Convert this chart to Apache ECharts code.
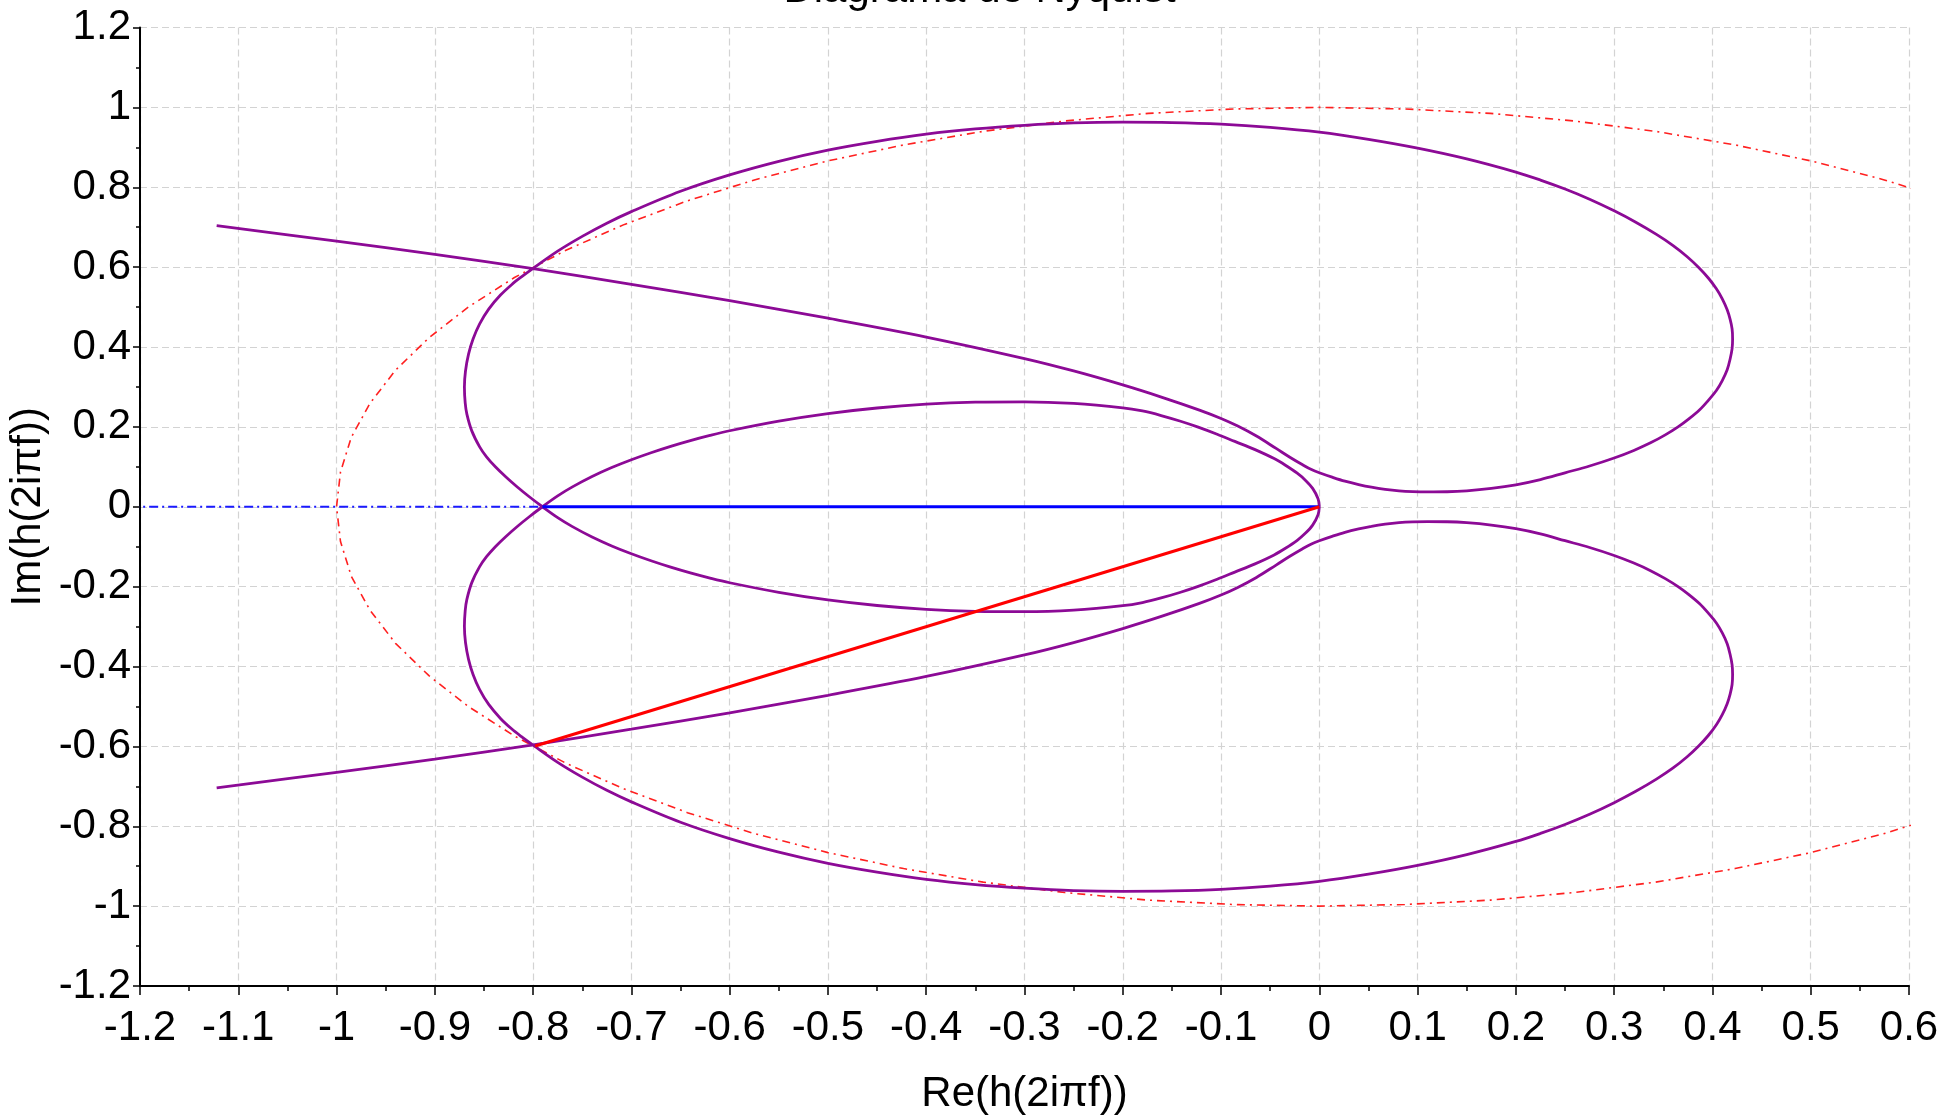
<!DOCTYPE html>
<html><head><meta charset="utf-8">
<script src="https://cdn.jsdelivr.net/npm/echarts@6/dist/echarts.min.js"></script>
<style>html,body{margin:0;padding:0;background:#fff}#c{width:1959px;height:1119px}</style>
</head><body><div id="c"></div>
<script>
// ---- texts ----
const titleText = 'Diagrama de Nyquist';
const xAxisName = 'Re(h(2iπf))';
const yAxisName = 'Im(h(2iπf))';

// ---- axis ranges (tick labels come from these) ----
const xRange = [-1.2, 0.6], xStep = 0.1;
const yRange = [-1.2, 1.2], yStep = 0.2;

// ---- Nyquist curve, branch starting top-left ----
const branchUpperStart = [
  [-1.122,0.704],[-1.0,0.665],[-0.9,0.632],[-0.8,0.596],[-0.7,0.557],[-0.6,0.516],[-0.5,0.472],
  [-0.4,0.425],[-0.3,0.371],[-0.25,0.340],[-0.2,0.305],[-0.16,0.274],[-0.122,0.242],[-0.1,0.221],
  [-0.083,0.202],[-0.064,0.177],[-0.044,0.146],[-0.03,0.124],[-0.017,0.105],[-0.008,0.093],
  [0,0.085],[0.013,0.074],[0.026,0.064],[0.04,0.0555],[0.053,0.049],[0.067,0.0437],[0.081,0.040],
  [0.095,0.038],[0.11,0.0372],[0.13,0.0376],[0.15,0.040],[0.175,0.046],[0.2,0.055],[0.225,0.068],
  [0.25,0.085],[0.275,0.102],[0.3,0.122],[0.32,0.141],[0.337,0.160],[0.352,0.180],[0.365,0.200],
  [0.376,0.220],[0.387,0.243],[0.396,0.267],[0.404,0.291],[0.410,0.316],[0.415,0.343],[0.418,0.370],
  [0.420,0.396],[0.4205,0.42],[0.420,0.445],[0.418,0.469],[0.415,0.493],[0.410,0.5205],[0.404,0.5457],
  [0.396,0.5721],[0.386,0.5991],[0.374,0.6267],[0.36,0.654],[0.343,0.682],[0.322,0.7125],[0.3,0.741],
  [0.275,0.770],[0.25,0.7955],[0.225,0.818],[0.2,0.838],[0.15,0.871],[0.1,0.898],[0.05,0.920],
  [0,0.938],[-0.05,0.950],[-0.1,0.958],[-0.15,0.962],[-0.2,0.963],[-0.25,0.961],[-0.3,0.955],
  [-0.35,0.946],[-0.4,0.933],[-0.45,0.915],[-0.5,0.893],[-0.55,0.865],[-0.6,0.831],[-0.65,0.790],
  [-0.7,0.739],[-0.725,0.710],[-0.75,0.677],[-0.775,0.640],[-0.8,0.597],[-0.8122,0.575],[-0.8219,0.556],
  [-0.8332,0.530],[-0.8452,0.495],[-0.8544,0.458],[-0.8611,0.42],[-0.8657,0.382],[-0.8688,0.34],[-0.8699,0.30],
  [-0.8691,0.26],[-0.8674,0.232],[-0.8624,0.19],[-0.8544,0.15],[-0.8474,0.125],[-0.8384,0.1],[-0.8279,0.075],
  [-0.8164,0.05],[-0.8039,0.025],[-0.7905,0],[-0.775,-0.0272],[-0.76,-0.0497],[-0.74,-0.0757],[-0.72,-0.0981],
  [-0.7,-0.1177],[-0.68,-0.1353],[-0.66,-0.1513],[-0.64,-0.1657],[-0.62,-0.1787],[-0.6,-0.1903],[-0.55,-0.2143],
  [-0.5,-0.2333],[-0.45,-0.2473],[-0.4,-0.2568],[-0.35,-0.2618],[-0.3,-0.2628],[-0.25,-0.2588],[-0.2,-0.2478],
  [-0.18,-0.2398],[-0.161,-0.2284],[-0.142,-0.2147],[-0.124,-0.200],[-0.104,-0.1816],[-0.086,-0.1636],
  [-0.066,-0.1436],[-0.046,-0.1206],[-0.0345,-0.104],[-0.0225,-0.084],[-0.014,-0.066],[-0.0068,-0.046],
  [-0.0013,-0.02],[0,0]
];
// ---- mirror branch starting bottom-left ----
const branchLowerStart = [
  [-1.122,-0.704],[-1.0,-0.665],[-0.9,-0.632],[-0.8,-0.596],[-0.7,-0.557],[-0.6,-0.516],[-0.5,-0.472],
  [-0.4,-0.425],[-0.3,-0.371],[-0.25,-0.340],[-0.2,-0.305],[-0.16,-0.274],[-0.122,-0.242],[-0.1,-0.221],
  [-0.083,-0.202],[-0.064,-0.177],[-0.044,-0.146],[-0.03,-0.124],[-0.017,-0.105],[-0.008,-0.093],
  [0,-0.085],[0.013,-0.074],[0.026,-0.064],[0.04,-0.0555],[0.053,-0.049],[0.067,-0.0437],[0.081,-0.040],
  [0.095,-0.038],[0.11,-0.0372],[0.13,-0.0376],[0.15,-0.040],[0.175,-0.046],[0.2,-0.055],[0.225,-0.068],
  [0.25,-0.085],[0.275,-0.102],[0.3,-0.122],[0.32,-0.141],[0.337,-0.160],[0.352,-0.180],[0.365,-0.200],
  [0.376,-0.220],[0.387,-0.243],[0.396,-0.267],[0.404,-0.291],[0.410,-0.316],[0.415,-0.343],[0.418,-0.370],
  [0.420,-0.396],[0.4205,-0.42],[0.420,-0.445],[0.418,-0.469],[0.415,-0.493],[0.410,-0.5205],[0.404,-0.5457],
  [0.396,-0.5721],[0.386,-0.5991],[0.374,-0.6267],[0.36,-0.654],[0.343,-0.682],[0.322,-0.7125],[0.3,-0.741],
  [0.275,-0.770],[0.25,-0.7955],[0.225,-0.818],[0.2,-0.838],[0.15,-0.871],[0.1,-0.898],[0.05,-0.920],
  [0,-0.938],[-0.05,-0.950],[-0.1,-0.958],[-0.15,-0.962],[-0.2,-0.963],[-0.25,-0.961],[-0.3,-0.955],
  [-0.35,-0.946],[-0.4,-0.933],[-0.45,-0.915],[-0.5,-0.893],[-0.55,-0.865],[-0.6,-0.831],[-0.65,-0.790],
  [-0.7,-0.739],[-0.725,-0.710],[-0.75,-0.677],[-0.775,-0.640],[-0.8,-0.597],[-0.8122,-0.575],[-0.8219,-0.556],
  [-0.8332,-0.530],[-0.8452,-0.495],[-0.8544,-0.458],[-0.8611,-0.42],[-0.8657,-0.382],[-0.8688,-0.34],[-0.8699,-0.30],
  [-0.8691,-0.26],[-0.8674,-0.232],[-0.8624,-0.19],[-0.8544,-0.15],[-0.8474,-0.125],[-0.8384,-0.1],[-0.8279,-0.075],
  [-0.8164,-0.05],[-0.8039,-0.025],[-0.7905,0],[-0.775,0.0272],[-0.76,0.0497],[-0.74,0.0757],[-0.72,0.0981],
  [-0.7,0.1177],[-0.68,0.1353],[-0.66,0.1513],[-0.64,0.1657],[-0.62,0.1787],[-0.6,0.1903],[-0.55,0.2143],
  [-0.5,0.2333],[-0.45,0.2473],[-0.4,0.2568],[-0.35,0.2618],[-0.3,0.2628],[-0.25,0.2588],[-0.2,0.2478],
  [-0.18,0.2398],[-0.161,0.2284],[-0.142,0.2147],[-0.124,0.200],[-0.104,0.1816],[-0.086,0.1636],
  [-0.066,0.1436],[-0.046,0.1206],[-0.0345,0.104],[-0.0225,0.084],[-0.014,0.066],[-0.0068,0.046],
  [-0.0013,0.02],[0,0]
];

// ---- unit circle (red dash-dot) ----
const unitCircle = [
  [1,0],[0.996,0.087],[0.985,0.174],[0.966,0.259],[0.940,0.342],[0.906,0.423],[0.866,0.5],
  [0.819,0.574],[0.766,0.643],[0.707,0.707],[0.643,0.766],[0.574,0.819],[0.5,0.866],
  [0.423,0.906],[0.342,0.940],[0.259,0.966],[0.174,0.985],[0.087,0.996],[0,1],
  [-0.087,0.996],[-0.174,0.985],[-0.259,0.966],[-0.342,0.940],[-0.423,0.906],[-0.5,0.866],
  [-0.574,0.819],[-0.643,0.766],[-0.707,0.707],[-0.766,0.643],[-0.819,0.574],[-0.866,0.5],
  [-0.906,0.423],[-0.940,0.342],[-0.966,0.259],[-0.985,0.174],[-0.996,0.087],[-1,0],
  [-0.996,-0.087],[-0.985,-0.174],[-0.966,-0.259],[-0.940,-0.342],[-0.906,-0.423],[-0.866,-0.5],
  [-0.819,-0.574],[-0.766,-0.643],[-0.707,-0.707],[-0.643,-0.766],[-0.574,-0.819],[-0.5,-0.866],
  [-0.423,-0.906],[-0.342,-0.940],[-0.259,-0.966],[-0.174,-0.985],[-0.087,-0.996],[0,-1],
  [0.087,-0.996],[0.174,-0.985],[0.259,-0.966],[0.342,-0.940],[0.423,-0.906],[0.5,-0.866],
  [0.574,-0.819],[0.643,-0.766],[0.707,-0.707],[0.766,-0.643],[0.819,-0.574],[0.866,-0.5],
  [0.906,-0.423],[0.940,-0.342],[0.966,-0.259],[0.985,-0.174],[0.996,-0.087],[1,0]
];

// ---- margin lines ----
const gainMarginSolid = [[-0.7905, 0], [0, 0]];
const gainMarginDashed = [[-1.5, 0], [-0.7905, 0]];
const phaseMarginLine = [[-0.798, -0.599], [0, 0]];

const FONT = '"Liberation Sans", Arial, sans-serif';
const FS = 42;
const purple = '#8c0a96';

const chart = echarts.init(document.getElementById('c'), null, {renderer: 'canvas'});
chart.setOption({
  animation: false,
  backgroundColor: '#ffffff',
  title: {
    text: titleText, left: 'center', top: -36,
    textStyle: {fontFamily: FONT, fontSize: FS, fontWeight: 'normal', color: '#000'}
  },
  grid: {left: 140, right: 50, top: 27.5, bottom: 133, containLabel: false, outerBoundsMode: 'none'},
  xAxis: {
    type: 'value', min: xRange[0], max: xRange[1], interval: xStep,
    name: xAxisName, nameLocation: 'middle', nameGap: 87, nameMoveOverlap: false,
    nameTextStyle: {fontFamily: FONT, fontSize: FS, color: '#000'},
    axisLine: {show: true, onZero: false, lineStyle: {color: '#000', width: 2}},
    axisTick: {show: true, length: 9, lineStyle: {color: '#000', width: 1.5}},
    minorTick: {show: true, splitNumber: 2, length: 5, lineStyle: {color: '#000', width: 1.5}},
    axisLabel: {fontFamily: FONT, fontSize: FS, color: '#000', margin: 21},
    splitLine: {show: true, lineStyle: {color: '#d3d3d3', width: 1.2, type: [7, 4]}}
  },
  yAxis: {
    type: 'value', min: yRange[0], max: yRange[1], interval: yStep,
    name: yAxisName, nameLocation: 'middle', nameGap: 91, nameRotate: 90, nameMoveOverlap: false,
    nameTextStyle: {fontFamily: FONT, fontSize: FS, color: '#000'},
    axisLine: {show: true, onZero: false, lineStyle: {color: '#000', width: 2}},
    axisTick: {show: true, length: 7, lineStyle: {color: '#000', width: 1.5}},
    minorTick: {show: true, splitNumber: 2, length: 4, lineStyle: {color: '#000', width: 1.5}},
    axisLabel: {fontFamily: FONT, fontSize: FS, color: '#000', margin: 9},
    splitLine: {show: true, lineStyle: {color: '#d3d3d3', width: 1.2, type: [7, 4]}}
  },
  series: [
    {type: 'line', data: unitCircle, showSymbol: false, clip: false, silent: true,
     lineStyle: {color: '#ff2020', width: 1.6, type: [8, 5, 2, 5]}},
    {type: 'line', data: gainMarginDashed, showSymbol: false, clip: false, silent: true,
     lineStyle: {color: '#1a1aff', width: 1.8, type: [9, 4, 2, 4]}},
    {type: 'line', data: branchUpperStart, showSymbol: false, smooth: 0.35, silent: true,
     lineStyle: {color: purple, width: 2.8}},
    {type: 'line', data: branchLowerStart, showSymbol: false, smooth: 0.35, silent: true,
     lineStyle: {color: purple, width: 2.8}},
    {type: 'line', data: gainMarginSolid, showSymbol: false, silent: true,
     lineStyle: {color: '#0000ff', width: 3}},
    {type: 'line', data: phaseMarginLine, showSymbol: false, silent: true,
     lineStyle: {color: '#ff0000', width: 3}}
  ]
});
</script></body></html>
